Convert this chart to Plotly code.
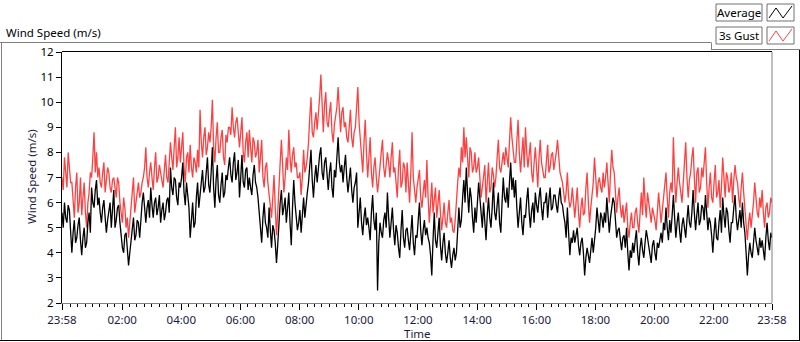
import pandas as pd
import plotly.graph_objects as go

# ---------------- data ----------------
start_time = "2024-01-01 23:58"
end_time = "2024-01-02 23:58"
sample_freq = "150s"   # 2.5 minute samples

average = [
    5.6, 5.0, 6.0, 5.4, 5.2, 5.9, 5.7, 4.9,
    4.0, 4.8, 5.3, 4.4, 4.6, 5.1, 5.4, 4.5,
    3.9, 4.6, 5.0, 4.2, 4.4, 5.2, 5.6, 4.8,
    6.6, 6.0, 5.8, 6.5, 6.9, 5.9, 6.2, 5.6,
    5.2, 5.8, 6.1, 5.4, 4.8, 5.3, 5.6, 6.0,
    5.0, 5.6, 6.5, 5.0, 5.3, 5.8, 5.9, 5.2,
    4.6, 4.2, 4.0, 4.7, 4.8, 3.9, 3.5, 4.0,
    4.4, 4.9, 5.4, 4.5, 4.7, 5.3, 5.2, 4.6,
    5.5, 6.0, 6.4, 5.6, 5.2, 5.8, 6.1, 5.4,
    6.6, 5.9, 5.4, 6.0, 6.2, 5.5, 5.8, 6.3,
    5.2, 5.7, 6.0, 5.3, 5.6, 6.1, 6.2, 5.6,
    7.4, 6.6, 6.3, 7.0, 6.9, 6.2, 5.9, 6.8,
    6.6, 7.0, 7.6, 6.4, 5.9, 6.8, 6.3, 5.8,
    4.6, 5.4, 6.0, 5.0, 5.2, 6.2, 6.8, 5.8,
    6.2, 6.8, 7.3, 6.4, 6.6, 7.2, 7.8, 6.7,
    6.4, 7.2, 8.2, 6.6, 5.8, 6.9, 7.5, 6.3,
    6.0, 6.7, 7.2, 6.2, 6.4, 7.1, 6.9, 7.4,
    7.8, 7.1, 6.8, 7.6, 8.0, 6.9, 7.2, 7.7,
    6.2, 7.0, 7.9, 6.8, 6.6, 7.3, 7.4, 6.5,
    7.0, 6.6, 6.3, 7.1, 7.5, 6.8, 6.6, 6.2,
    5.6, 5.0, 4.4, 5.4, 6.0, 5.2, 5.0, 4.6,
    5.8, 4.9, 4.2, 5.1, 4.9, 4.4, 3.6, 4.3,
    5.4, 6.0, 6.5, 5.5, 5.8, 6.2, 5.2, 5.9,
    6.4, 5.2, 4.3, 5.8, 6.9, 6.0, 5.5, 4.9,
    5.2, 5.7, 4.8, 5.5, 6.2, 5.4, 6.0, 6.4,
    6.8, 7.4, 8.1, 6.9, 6.2, 7.0, 7.5, 6.8,
    7.4, 7.9, 8.2, 7.2, 6.9, 7.6, 7.8, 7.0,
    6.5, 7.2, 7.6, 6.6, 6.2, 7.3, 7.0, 7.8,
    8.6, 7.6, 7.2, 7.5, 6.8, 7.4, 7.9, 7.0,
    6.4, 6.9, 7.4, 6.5, 6.0, 6.6, 6.8, 7.2,
    5.0, 5.6, 6.2, 5.2, 4.7, 5.4, 5.8, 5.1,
    5.4, 5.0, 4.5, 5.6, 6.3, 5.3, 4.9, 5.6,
    2.5, 4.4, 5.2, 4.8, 4.6, 5.3, 5.6, 5.0,
    6.4, 5.4, 4.6, 5.2, 5.8, 4.9, 4.3, 5.1,
    4.8, 4.2, 3.8, 4.9, 5.7, 4.6, 4.2, 4.9,
    5.0, 4.5, 4.1, 4.8, 5.5, 4.4, 3.9, 4.7,
    4.6, 5.3, 6.0, 4.9, 4.3, 4.9, 5.3, 4.7,
    5.0, 4.6, 4.4, 3.9, 3.1, 4.5, 5.6, 4.5,
    4.2, 4.8, 5.4, 4.3, 3.7, 4.4, 4.8, 4.0,
    3.6, 4.0, 4.5, 3.8, 3.4, 3.9, 4.2, 3.7,
    4.0, 4.9, 5.8, 5.0, 5.3, 6.2, 6.9, 6.0,
    7.4, 6.4, 5.6, 6.6, 6.2, 5.4, 4.8, 5.8,
    5.2, 6.0, 6.8, 6.2, 5.6, 5.0, 6.0, 5.4,
    4.5, 5.5, 6.2, 5.4, 5.0, 5.8, 6.8, 5.6,
    5.3, 5.9, 6.4, 5.2, 4.8, 6.0, 7.0, 6.2,
    6.0, 6.6, 5.8, 6.8, 7.6, 6.5, 7.0, 6.2,
    6.9, 5.8, 5.0, 5.6, 6.2, 5.2, 4.7, 5.5,
    5.4, 6.1, 6.6, 5.6, 5.0, 5.7, 6.0, 5.2,
    6.4, 5.9, 5.6, 6.2, 6.6, 5.8, 5.3, 6.0,
    6.0, 6.4, 5.4, 6.1, 6.6, 5.7, 5.8, 6.3,
    6.3, 5.9, 5.6, 6.2, 6.6, 6.0, 5.9, 5.5,
    5.2, 4.6, 5.8, 4.8, 3.9, 4.6, 4.4, 4.9,
    4.4, 4.7, 5.0, 4.3, 3.9, 4.4, 4.6, 4.0,
    3.1, 3.8, 4.2, 3.9, 3.6, 4.1, 4.6, 4.0,
    4.4, 5.0, 5.8, 5.2, 4.8, 5.6, 5.4, 5.0,
    5.6, 5.2, 6.2, 5.5, 4.8, 5.4, 5.8, 6.2,
    6.0, 5.2, 4.6, 4.9, 5.0, 4.5, 4.1, 4.6,
    4.7, 4.2, 5.0, 4.0, 3.3, 4.1, 3.8, 4.4,
    4.0, 4.5, 4.9, 4.0, 3.5, 4.2, 4.6, 4.1,
    3.8, 4.4, 4.9, 4.6, 4.2, 4.0, 3.6, 4.3,
    4.5, 4.0, 3.7, 4.4, 4.2, 4.5, 4.8, 4.4,
    5.2, 4.9, 5.8, 5.0, 4.5, 5.3, 4.8, 5.5,
    6.3, 5.4, 4.6, 5.2, 5.6, 4.9, 4.4, 5.1,
    5.4, 5.0, 4.6, 5.3, 5.9, 5.2, 5.0, 5.6,
    6.5, 5.6, 4.9, 5.5, 6.0, 5.1, 5.3, 5.9,
    5.8, 5.3, 6.3, 5.6, 4.9, 5.4, 5.2, 4.7,
    4.0, 4.8, 5.4, 4.6, 4.5, 5.2, 5.7, 4.8,
    6.2, 5.5, 5.0, 5.8, 5.6, 4.9, 4.4, 5.2,
    5.2, 5.8, 6.3, 5.4, 4.9, 5.3, 5.7, 5.0,
    6.0, 5.2, 4.8, 4.0, 3.1, 3.9, 4.4, 4.0,
    3.8, 4.4, 5.0, 4.5, 4.1, 3.9, 4.6, 4.2,
    4.5, 4.0, 3.7, 4.6, 5.2, 4.5, 4.1, 4.8,
    4.6,
]

gust = [
    7.0, 6.5, 7.8, 7.2, 6.6, 8.0, 7.4, 6.8,
    6.8, 6.0, 5.4, 6.6, 7.2, 5.6, 6.0, 7.0,
    5.5, 6.2, 6.8, 5.6, 5.0, 6.0, 6.4, 7.2,
    7.0, 7.8, 8.8, 7.2, 8.0, 7.0, 7.4, 6.8,
    6.6, 7.2, 7.6, 6.4, 6.8, 7.4, 7.2, 6.6,
    6.4, 6.9, 7.0, 6.5, 6.2, 7.0, 6.8, 6.0,
    5.6, 5.2, 6.2, 5.8, 5.0, 5.4, 4.6, 5.2,
    5.8, 6.4, 7.0, 5.6, 6.0, 6.6, 6.8, 6.2,
    6.4, 6.8, 7.0, 7.4, 8.2, 7.0, 6.6, 7.2,
    7.6, 7.0, 6.5, 7.4, 8.0, 6.8, 7.0, 7.5,
    7.2, 6.8, 6.6, 7.3, 7.9, 7.0, 6.8, 7.6,
    8.4, 7.8, 7.3, 8.2, 9.0, 7.4, 7.8, 8.6,
    7.6, 8.2, 8.8, 7.4, 6.8, 7.8, 8.0, 7.2,
    8.3, 7.4, 7.0, 7.8, 7.6, 7.2, 8.1, 7.4,
    9.7, 8.4, 7.8, 8.6, 9.0, 7.9, 8.2, 8.8,
    8.4, 9.0, 10.1, 8.2, 7.6, 8.6, 9.2, 8.0,
    8.0, 8.6, 8.9, 7.8, 7.5, 8.7, 8.4, 9.0,
    9.0, 8.7, 9.8, 9.0, 8.6, 9.2, 9.4, 8.8,
    8.2, 8.8, 9.4, 8.0, 7.6, 8.4, 8.8, 7.8,
    8.9, 8.2, 7.6, 8.6, 8.4, 7.8, 8.0, 8.5,
    7.2, 7.8, 8.5, 7.0, 6.6, 7.4, 7.6, 6.8,
    6.4, 6.0, 5.4, 6.2, 7.1, 5.8, 4.7, 5.6,
    7.0, 7.6, 8.5, 7.2, 6.4, 7.0, 7.8, 7.3,
    8.9, 7.8, 7.2, 7.9, 8.2, 7.4, 7.6, 7.0,
    7.0, 7.2, 6.3, 7.0, 8.1, 7.2, 7.4, 7.8,
    8.4, 9.4, 10.2, 8.8, 8.6, 9.2, 9.6, 8.9,
    9.4, 10.2, 11.1, 9.6, 8.8, 9.9, 10.4, 9.2,
    9.0, 9.6, 10.0, 8.8, 8.4, 9.1, 9.5, 9.8,
    10.6, 9.4, 8.8, 9.6, 9.8, 9.0, 9.2, 8.6,
    8.4, 9.0, 9.7, 8.6, 8.2, 8.8, 9.0, 9.8,
    10.6, 9.2, 8.6, 7.8, 7.2, 8.4, 9.3, 8.0,
    7.0, 7.8, 8.6, 7.2, 6.6, 7.4, 7.8, 7.0,
    6.4, 6.9, 7.6, 8.0, 8.5, 7.4, 7.0, 7.7,
    8.0, 7.6, 7.0, 7.8, 8.4, 7.2, 7.4, 6.8,
    6.2, 7.4, 8.1, 6.6, 6.8, 7.6, 7.4, 6.4,
    7.6, 6.8, 6.0, 7.2, 8.8, 7.0, 6.6, 6.0,
    6.6, 6.9, 7.3, 6.2, 5.8, 6.4, 6.9, 6.2,
    7.7, 6.2, 5.2, 6.0, 6.8, 5.6, 6.0, 6.6,
    5.4, 6.0, 6.5, 5.6, 4.9, 5.4, 6.0, 5.2,
    5.0, 5.6, 6.1, 5.2, 5.4, 4.9, 4.8, 5.3,
    6.2, 6.8, 7.4, 7.0, 8.2, 7.6, 9.0, 7.8,
    8.6, 7.8, 7.0, 8.2, 8.0, 7.2, 7.4, 8.0,
    7.2, 7.4, 7.8, 7.0, 6.2, 6.6, 7.0, 7.5,
    6.0, 6.8, 7.6, 6.4, 6.6, 7.4, 7.1, 6.6,
    7.0, 7.8, 8.5, 7.4, 7.2, 7.6, 8.0, 7.5,
    8.2, 7.8, 7.4, 8.4, 9.4, 8.6, 8.0, 7.6,
    7.6, 8.4, 9.3, 8.0, 7.2, 7.9, 8.6, 7.4,
    9.0, 8.0, 7.4, 7.9, 8.4, 7.2, 6.8, 7.6,
    8.2, 7.4, 6.6, 7.8, 8.5, 7.6, 7.2, 7.0,
    7.0, 7.8, 8.3, 7.2, 7.4, 7.9, 8.0, 7.3,
    7.6, 8.0, 8.5, 7.6, 7.2, 7.0, 6.8, 6.4,
    6.0, 6.4, 7.2, 6.2, 5.8, 6.0, 6.6, 6.0,
    5.4, 6.0, 6.6, 5.6, 5.0, 5.8, 6.2, 5.5,
    5.6, 6.6, 7.2, 6.0, 5.2, 5.8, 6.4, 6.8,
    7.8, 7.0, 6.2, 6.8, 7.0, 6.6, 6.4, 7.2,
    6.6, 7.0, 7.6, 6.8, 6.0, 7.2, 8.1, 7.4,
    7.2, 6.4, 5.6, 6.2, 6.6, 5.8, 5.4, 5.9,
    5.2, 5.6, 6.0, 5.0, 4.6, 5.2, 5.6, 5.0,
    5.0, 5.6, 5.8, 5.2, 4.8, 5.6, 6.4, 5.5,
    7.0, 6.0, 5.4, 6.4, 6.0, 5.6, 5.2, 5.8,
    5.6, 5.3, 4.9, 5.6, 6.4, 5.8, 5.2, 5.7,
    6.2, 6.6, 7.2, 6.2, 5.4, 6.4, 6.8, 6.4,
    8.6, 7.0, 6.0, 6.8, 7.4, 6.8, 6.4, 6.0,
    6.8, 7.6, 8.4, 7.0, 6.2, 6.9, 7.2, 7.8,
    8.2, 7.0, 6.0, 7.2, 7.4, 6.4, 6.6, 7.4,
    7.0, 7.6, 8.2, 6.8, 5.8, 6.6, 7.2, 6.2,
    6.0, 6.8, 7.5, 6.2, 6.4, 6.9, 5.8, 6.6,
    7.8, 7.0, 6.2, 7.2, 7.0, 6.4, 6.6, 7.2,
    6.0, 6.9, 7.5, 7.0, 6.8, 6.2, 5.8, 6.6,
    7.2, 6.4, 5.8, 5.0, 4.5, 5.2, 5.6, 5.0,
    5.4, 6.0, 6.8, 6.1, 5.6, 5.4, 6.2, 5.8,
    6.5, 5.6, 5.0, 5.8, 6.0, 5.4, 5.6, 6.2,
    6.0,
]

series_names = ["Average", "3s Gust"]
series_colors = ["#000000", "#ff4040"]

x_tick_times = ["2024-01-01 23:58", "2024-01-02 02:00", "2024-01-02 04:00",
                "2024-01-02 06:00", "2024-01-02 08:00", "2024-01-02 10:00",
                "2024-01-02 12:00", "2024-01-02 14:00", "2024-01-02 16:00",
                "2024-01-02 18:00", "2024-01-02 20:00", "2024-01-02 22:00",
                "2024-01-02 23:58"]
x_tick_labels = ["23:58", "02:00", "04:00", "06:00", "08:00", "10:00", "12:00",
                 "14:00", "16:00", "18:00", "20:00", "22:00", "23:58"]
y_ticks = [2, 3, 4, 5, 6, 7, 8, 9, 10, 11, 12]

chart_title = "Wind Speed (m/s)"
y_title = "Wind Speed (m/s)"
x_title = "Time"

# ---------------- layout helpers ----------------
W, H = 800, 342
L, R, T, B = 62, 772, 52, 303
FONT = "Segoe UI, Noto Sans, sans-serif"
FS = 11.5


def PX(x):
    return (x - L) / (R - L)


def PY(y):
    return (B - y) / (B - T)


times = pd.date_range(start_time, periods=len(average), freq=sample_freq)
minor_ticks = pd.date_range("2024-01-02 00:00", "2024-01-02 23:45", freq="15min")

fig = go.Figure()
fig.add_trace(go.Scatter(x=times, y=gust, mode="lines", name=series_names[1],
                         line=dict(color=series_colors[1], width=1.3)))
fig.add_trace(go.Scatter(x=times, y=average, mode="lines", name=series_names[0],
                         line=dict(color=series_colors[0], width=1.3)))

shapes = []


def line(x0, y0, x1, y1, color, width=1):
    shapes.append(dict(type="line", xref="paper", yref="paper",
                       x0=PX(x0), y0=PY(y0), x1=PX(x1), y1=PY(y1),
                       line=dict(color=color, width=width), layer="above"))


# outer frame
line(0, 42.5, 711, 42.5, "#808080")
line(1.5, 42.5, 1.5, 341, "#808080")
line(0, 340.5, 800, 340.5, "#000000")
line(799.5, 49, 799.5, 341, "#000000")
line(711, 49.5, 800, 49.5, "#808080")
line(711.5, 42.5, 711.5, 49.5, "#808080")
# plot border
line(L, T - 0.5, R, T - 0.5, "#000000")
line(R, T, R, B, "#808080")

# legend boxes
annotations = []
box_rows = [(4, 21), (27, 44)]
for (y0, y1), name, col in zip(box_rows, series_names, series_colors):
    shapes.append(dict(type="rect", xref="paper", yref="paper",
                       x0=PX(716), x1=PX(762), y0=PY(y1), y1=PY(y0),
                       line=dict(color="#707070", width=1), fillcolor="white"))
    shapes.append(dict(type="rect", xref="paper", yref="paper",
                       x0=PX(767), x1=PX(794), y0=PY(y1), y1=PY(y0),
                       line=dict(color="#707070", width=1), fillcolor="white"))
    pts = [(769, y1 - 3), (776, y0 + 4), (783, y1 - 3), (792, y0 + 2)]
    path = "M " + " L ".join(f"{PX(a)},{PY(b)}" for a, b in pts)
    shapes.append(dict(type="path", xref="paper", yref="paper", path=path,
                       line=dict(color=col, width=1)))
    annotations.append(dict(text=name, xref="paper", yref="paper",
                            x=PX(739), y=PY((y0 + y1) / 2), showarrow=False,
                            xanchor="center", yanchor="middle",
                            font=dict(family=FONT, size=FS, color="#000000")))

annotations.append(dict(text=chart_title, xref="paper", yref="paper",
                        x=PX(4), y=PY(32), showarrow=False, xanchor="left",
                        yanchor="middle",
                        font=dict(family=FONT, size=FS, color="#000000")))
annotations.append(dict(text=y_title, xref="paper", yref="paper",
                        x=PX(31), y=PY(177), showarrow=False, textangle=-90,
                        xanchor="center", yanchor="middle",
                        font=dict(family=FONT, size=FS, color="#1a1a40")))
annotations.append(dict(text=x_title, xref="paper", yref="paper",
                        x=PX(417), y=PY(333), showarrow=False,
                        xanchor="center", yanchor="middle",
                        font=dict(family=FONT, size=FS, color="#1a1a40")))

fig.update_layout(
    width=W, height=H,
    margin=dict(l=L, r=W - R, t=T, b=H - B, pad=0),
    paper_bgcolor="white", plot_bgcolor="white",
    showlegend=False,
    font=dict(family=FONT, size=FS, color="#000000"),
    shapes=shapes, annotations=annotations,
    xaxis=dict(type="date", range=[start_time, end_time],
               tickmode="array", tickvals=x_tick_times, ticktext=x_tick_labels,
               ticks="outside", ticklen=6, tickcolor="#000000", tickwidth=1,
               showline=True, linecolor="#808080", linewidth=1,
               showgrid=False, zeroline=False,
               tickfont=dict(family=FONT, size=FS, color="#1a1a40"),
               minor=dict(tickmode="array", tickvals=list(minor_ticks),
                          ticks="outside", ticklen=3, tickcolor="#000000",
                          tickwidth=1, showgrid=False)),
    yaxis=dict(range=[2, 12], tickmode="array", tickvals=y_ticks,
               ticks="outside", ticklen=5, tickcolor="#000000", tickwidth=1,
               showline=True, linecolor="#000000", linewidth=1,
               showgrid=False, zeroline=False,
               tickfont=dict(family=FONT, size=FS, color="#000000")),
)

fig.write_html("out.html",
               config={"displayModeBar": False, "staticPlot": True},
               post_script="document.body.style.margin='0px';"
                           "document.body.style.padding='0px';")
